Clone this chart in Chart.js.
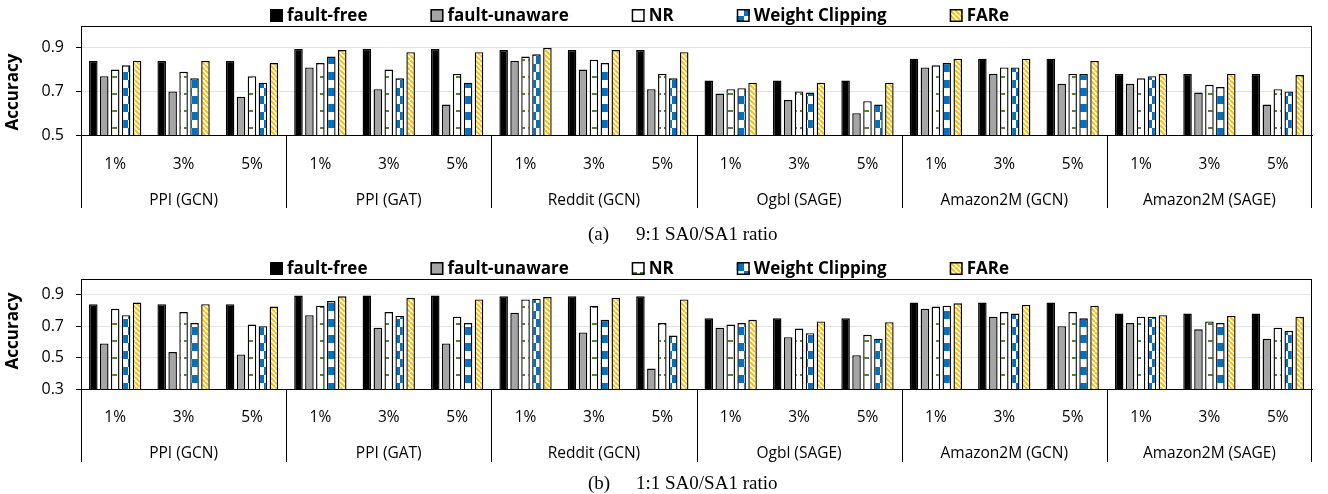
<!DOCTYPE html>
<html><head><meta charset="utf-8">
<script src="https://cdn.jsdelivr.net/npm/chart.js@4/dist/chart.umd.min.js"></script>
<style>
html,body{margin:0;padding:0;background:#fff;}
#wrap{position:relative;width:1328px;height:494px;overflow:hidden;background:#fff;}
canvas{position:absolute;left:0;}
.cap{position:absolute;font-family:"Liberation Serif","Times New Roman",serif;font-size:19px;line-height:22px;color:#000;white-space:pre;}
</style></head><body>
<div id="wrap">
<canvas id="ca" width="1328" height="247" style="top:0px"></canvas>
<canvas id="cb" width="1328" height="247" style="top:247px"></canvas>
<div class="cap" style="left:588px;top:223px">(a)</div>
<div class="cap" style="left:636px;top:223px">9:1 SA0/SA1 ratio</div>
<div class="cap" style="left:588px;top:472px">(b)</div>
<div class="cap" style="left:636px;top:472px">1:1 SA0/SA1 ratio</div>
</div>
<script>
// ---------- data ----------
const groups = ['PPI (GCN)','PPI (GAT)','Reddit (GCN)','Ogbl (SAGE)','Amazon2M (GCN)','Amazon2M (SAGE)'];
const rates = ['1%','3%','5%'];
const seriesNames = ['fault-free','fault-unaware','NR','Weight Clipping','FARe'];
const yTicksA = [0.5,0.7,0.9];
const yTicksB = [0.3,0.5,0.7,0.9];

// (a) 9:1 SA0/SA1 ratio
const faultFreeA    = [0.84,0.84,0.84, 0.895,0.895,0.895, 0.89,0.89,0.89, 0.75,0.75,0.75, 0.85,0.85,0.85, 0.78,0.78,0.78];
const faultUnawareA = [0.77,0.70,0.675, 0.81,0.71,0.64, 0.84,0.80,0.71, 0.69,0.66,0.60, 0.81,0.78,0.735, 0.735,0.695,0.64];
const nrA           = [0.80,0.79,0.77, 0.83,0.80,0.78, 0.86,0.845,0.78, 0.71,0.70,0.655, 0.82,0.81,0.78, 0.76,0.73,0.71];
const wcA           = [0.82,0.76,0.74, 0.86,0.76,0.74, 0.87,0.83,0.76, 0.715,0.695,0.64, 0.83,0.81,0.78, 0.77,0.72,0.70];
const fareA         = [0.84,0.84,0.83, 0.89,0.88,0.88, 0.90,0.89,0.88, 0.74,0.74,0.74, 0.85,0.85,0.84, 0.78,0.78,0.775];

// (b) 1:1 SA0/SA1 ratio
const faultFreeB    = [0.84,0.84,0.84, 0.895,0.895,0.895, 0.89,0.89,0.89, 0.75,0.75,0.75, 0.85,0.85,0.85, 0.78,0.78,0.78];
const faultUnawareB = [0.59,0.535,0.52, 0.77,0.69,0.59, 0.785,0.66,0.43, 0.69,0.63,0.515, 0.81,0.76,0.70, 0.72,0.68,0.62];
const nrB           = [0.81,0.79,0.71, 0.83,0.79,0.76, 0.87,0.83,0.72, 0.71,0.685,0.645, 0.825,0.79,0.79, 0.76,0.73,0.69];
const wcB           = [0.77,0.72,0.70, 0.86,0.765,0.72, 0.875,0.74,0.64, 0.72,0.655,0.62, 0.83,0.78,0.75, 0.76,0.72,0.67];
const fareB         = [0.85,0.84,0.825, 0.89,0.88,0.87, 0.885,0.88,0.87, 0.74,0.73,0.725, 0.845,0.835,0.83, 0.77,0.765,0.76];

const xLabels = groups.flatMap(() => rates);

// ---------- patterns ----------
const helperCtx = document.createElement('canvas').getContext('2d');
function pat(w, h, fn) {
  const c = document.createElement('canvas'); c.width = w; c.height = h;
  const g = c.getContext('2d'); fn(g, w, h);
  return helperCtx.createPattern(c, 'repeat');
}
const patNR = pat(8, 17, (g, w, h) => {
  g.fillStyle = '#fff'; g.fillRect(0, 0, w, h);
  g.fillStyle = '#548235'; g.fillRect(0, 8, 5, 2);
});
const patWC = pat(16, 16, (g, w, h) => {
  g.fillStyle = '#fff'; g.fillRect(0, 0, w, h);
  g.fillStyle = '#0070C0'; g.fillRect(0, 0, 8, 8); g.fillRect(8, 8, 8, 8);
});
const patFARe = pat(5, 5, (g, w, h) => {
  g.fillStyle = '#fff'; g.fillRect(0, 0, w, h);
  g.strokeStyle = '#FFC000'; g.lineWidth = 2;
  for (const o of [-w, 0, w]) { g.beginPath(); g.moveTo(o, 0); g.lineTo(o + w, h); g.stroke(); }
});
const fills = ['#000000', '#A5A5A5', patNR, patWC, patFARe];

// ---------- decorations ----------
function decor(L) {
  return {
    id: 'decor',
    afterDraw(chart) {
      const ctx = chart.ctx, a = chart.chartArea, x = chart.scales.x;
      ctx.save();
      ctx.strokeStyle = '#000'; ctx.lineWidth = 1;
      ctx.strokeRect(a.left + 0.5, a.top + 0.5, a.right - a.left - 1, a.bottom - a.top);
      for (let g = 0; g <= groups.length; g++) {
        const px = Math.round(x.getPixelForValue(g * rates.length - 0.5)) + (g === groups.length ? -0.5 : 0.5);
        ctx.beginPath(); ctx.moveTo(px, a.bottom); ctx.lineTo(px, a.bottom + L.sepLen); ctx.stroke();
      }
      ctx.restore();
      // y title
      ctx.save();
      ctx.translate(L.titleX, L.titleY); ctx.rotate(-Math.PI / 2);
      ctx.font = 'bold 17px "Open Sans"'; ctx.fillStyle = '#000';
      ctx.textAlign = 'center'; ctx.textBaseline = 'middle';
      ctx.fillText('Accuracy', 0, 0);
      ctx.restore();
      // legend
      ctx.save();
      ctx.font = 'bold 17px "Open Sans"';
      const items = chart.data.datasets.map(d => ({label: d.label, fill: d.backgroundColor, w: 13 + 4 + ctx.measureText(d.label).width}));
      const gap = 63;
      const total = items.reduce((s, it) => s + it.w, 0) + gap * (items.length - 1);
      let xx = Math.round(L.legendCX - total / 2);
      for (const it of items) {
        ctx.fillStyle = it.fill; ctx.fillRect(xx, L.legendY - 6, 13, 13);
        ctx.strokeStyle = '#000'; ctx.lineWidth = 1.5; ctx.strokeRect(xx + 0.75, L.legendY - 5.25, 11.5, 11.5);
        ctx.fillStyle = '#000'; ctx.textAlign = 'left'; ctx.textBaseline = 'middle';
        ctx.fillText(it.label, xx + 17, L.legendY + 1);
        xx += it.w + gap;
      }
      ctx.restore();
    }
  };
}

function makeChart(id, series, yMin, yTicks, L) {
  const datasets = series.map((d, i) => ({
    label: seriesNames[i], data: d, backgroundColor: fills[i],
    borderColor: '#000', borderWidth: 1.4, barPercentage: 0.78, categoryPercentage: 0.8
  }));
  return new Chart(document.getElementById(id), {
    type: 'bar',
    data: {labels: xLabels, datasets},
    options: {
      responsive: false, animation: false, events: [],
      layout: {padding: {top: L.padTop, right: 16, bottom: L.padBottom, left: 0}},
      plugins: {legend: {display: false}, tooltip: {enabled: false}, title: {display: false}},
      scales: {
        x: {
          type: 'category', position: 'bottom', weight: 0,
          grid: {display: false}, border: {display: true, color: '#000', width: 1},
          ticks: {font: {family: 'Open Sans', size: 15.5}, color: '#000', padding: L.xPad, maxRotation: 0, autoSkip: false},
          afterFit: s => { s.height = L.xH; }
        },
        x2: {
          type: 'category', labels: groups, position: 'bottom', offset: true, weight: 1,
          grid: {display: false}, border: {display: false},
          ticks: {font: {family: 'Open Sans', size: 15.5}, color: '#000', padding: L.x2Pad, maxRotation: 0, autoSkip: false},
          afterFit: s => { s.height = L.x2H; }
        },
        y: {
          min: yMin, max: 1.0,
          grid: {color: '#e3e3e3', lineWidth: 1, tickColor: '#000', tickLength: 5},
          border: {color: '#000', width: 1},
          ticks: {font: {family: 'Open Sans', size: 16}, color: '#000', padding: 12, callback: v => Number(v).toFixed(1)},
          afterBuildTicks: s => { s.ticks = yTicks.map(v => ({value: v})); },
          afterFit: s => { s.width = 81; }
        }
      }
    },
    plugins: [decor(L)]
  });
}

function build() {
  makeChart('ca', [faultFreeA, faultUnawareA, nrA, wcA, fareA], 0.5, yTicksA,
    {padTop: 26, xH: 45, x2H: 40, padBottom: 27, xPad: 12, x2Pad: 3, sepLen: 73, titleX: 13, titleY: 92, legendY: 15, legendCX: 640});
  makeChart('cb', [faultFreeB, faultUnawareB, nrB, wcB, fareB], 0.3, yTicksB,
    {padTop: 32, xH: 44, x2H: 40, padBottom: 21, xPad: 11, x2Pad: 3, sepLen: 73, titleX: 13, titleY: 84, legendY: 21, legendCX: 640});
}
Promise.all([
  document.fonts.load('bold 17px "Open Sans"'),
  document.fonts.load('15px "Open Sans"')
]).then(build, build);
</script>
</body></html>
